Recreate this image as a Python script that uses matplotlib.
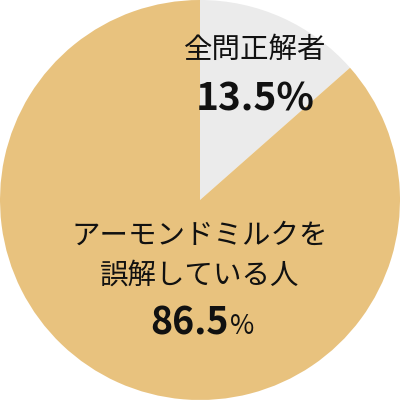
import matplotlib
matplotlib.use('Agg')
import matplotlib.pyplot as plt

plt.rcParams['font.family'] = ['Noto Sans CJK JP', 'DejaVu Sans']

# Quiz result shares
labels = ['全問正解者', 'アーモンドミルクを\n誤解している人']
values = [13.5, 86.5]
colors = ['#ebebeb', '#e8c27e']


def px(x, y):
    # pixel position -> data coords (pie of radius 1 fills the 400px figure)
    return (x - 200) / 200, (200 - y) / 200


fig = plt.figure(figsize=(4, 4), dpi=100)
ax = fig.add_axes([0, 0, 1, 1])
ax.pie(values, colors=colors, startangle=90, counterclock=False,
       radius=1.0, wedgeprops={'linewidth': 0})
ax.set_xlim(-1, 1)
ax.set_ylim(-1, 1)
ax.set_aspect('equal')
ax.axis('off')

# small slice label
ax.text(*px(255, 50), labels[0], ha='center', va='center', fontsize=20.5, color='#111111')
ax.text(*px(255, 99), f'{values[0]}%', ha='center', va='center', fontsize=28,
        fontweight='bold', color='#111111')

# large slice label
line1, line2 = labels[1].split('\n')
ax.text(*px(200, 236), line1, ha='center', va='center', fontsize=20.5, color='#111111')
ax.text(*px(200, 276), line2, ha='center', va='center', fontsize=20.5, color='#111111')
ax.text(*px(229, 323), f'{values[1]}', ha='right', va='center', fontsize=27,
        fontweight='bold', color='#111111')
ax.text(*px(230, 326), '%', ha='left', va='center', fontsize=19, color='#111111')

fig.savefig('out.png', dpi=100)
